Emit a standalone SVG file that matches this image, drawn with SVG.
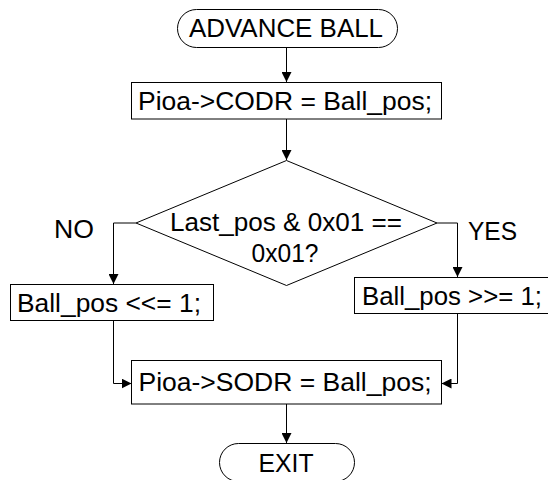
<svg xmlns="http://www.w3.org/2000/svg" width="548" height="480" viewBox="0 0 548 480">
  <style>
    .shape { fill: #ffffff; stroke: #000000; stroke-width: 1; }
    .wire { fill: none; stroke: #000000; stroke-width: 1; }
    .label { font-family: "Liberation Sans", Arial, sans-serif; font-size: 25px; fill: #000000; }
    .mid { text-anchor: middle; }
  </style>
  <defs>
    <marker id="arrow" viewBox="0 0 10 10" refX="10" refY="5" markerWidth="10" markerHeight="10" markerUnits="userSpaceOnUse" orient="auto">
      <path d="M0,0 L10,5 L0,10 Z" fill="#000000"/>
    </marker>
  </defs>
  <rect width="548" height="480" fill="#ffffff"/>

  <!-- connectors -->
  <g id="connectors">
    <path class="wire" d="M286.5,48 V82" marker-end="url(#arrow)"/>
    <path class="wire" d="M286.5,119 V160" marker-end="url(#arrow)"/>
    <path class="wire" d="M136,223 H113.5 V284" marker-end="url(#arrow)"/>
    <path class="wire" d="M437,223 H457.5 V277" marker-end="url(#arrow)"/>
    <path class="wire" d="M113.5,320 V383.5 H131.5" marker-end="url(#arrow)"/>
    <path class="wire" d="M457.5,313 V383.5 H441.5" marker-end="url(#arrow)"/>
    <path class="wire" d="M286.5,404 V443" marker-end="url(#arrow)"/>
  </g>

  <g id="start">
    <rect class="shape" x="177.5" y="9.5" width="220" height="38" rx="19" ry="19"/>
    <text class="label mid" x="286" y="37" textLength="194" lengthAdjust="spacingAndGlyphs">ADVANCE BALL</text>
  </g>

  <g id="clear-output">
    <rect class="shape" x="131.5" y="82.5" width="310" height="36.5"/>
    <text class="label mid" x="285" y="110" textLength="294" lengthAdjust="spacingAndGlyphs">Pioa-&gt;CODR = Ball_pos;</text>
  </g>

  <g id="decision">
    <polygon class="shape" points="286.5,160.5 437,223 286.5,285.5 136,223"/>
    <text class="label mid" x="286" y="231" textLength="232" lengthAdjust="spacingAndGlyphs">Last_pos &amp; 0x01 ==</text>
    <text class="label mid" x="285" y="262" textLength="67" lengthAdjust="spacingAndGlyphs">0x01?</text>
    <text class="label" x="54" y="238" textLength="40" lengthAdjust="spacingAndGlyphs">NO</text>
    <text class="label" x="468" y="240" textLength="49" lengthAdjust="spacingAndGlyphs">YES</text>
  </g>

  <g id="shift-left">
    <rect class="shape" x="10.5" y="284.5" width="203" height="36"/>
    <text class="label" x="17" y="312" textLength="184" lengthAdjust="spacingAndGlyphs">Ball_pos &lt;&lt;= 1;</text>
  </g>

  <g id="shift-right">
    <rect class="shape" x="354.5" y="277.5" width="196" height="36"/>
    <text class="label" x="362" y="305" textLength="180" lengthAdjust="spacingAndGlyphs">Ball_pos &gt;&gt;= 1;</text>
  </g>

  <g id="set-output">
    <rect class="shape" x="131.5" y="360.5" width="310" height="43.5"/>
    <text class="label mid" x="285" y="391" textLength="293" lengthAdjust="spacingAndGlyphs">Pioa-&gt;SODR = Ball_pos;</text>
  </g>

  <g id="exit">
    <rect class="shape" x="219.5" y="443.5" width="135" height="38" rx="19" ry="19"/>
    <text class="label mid" x="286" y="472" textLength="55" lengthAdjust="spacingAndGlyphs">EXIT</text>
  </g>
</svg>
